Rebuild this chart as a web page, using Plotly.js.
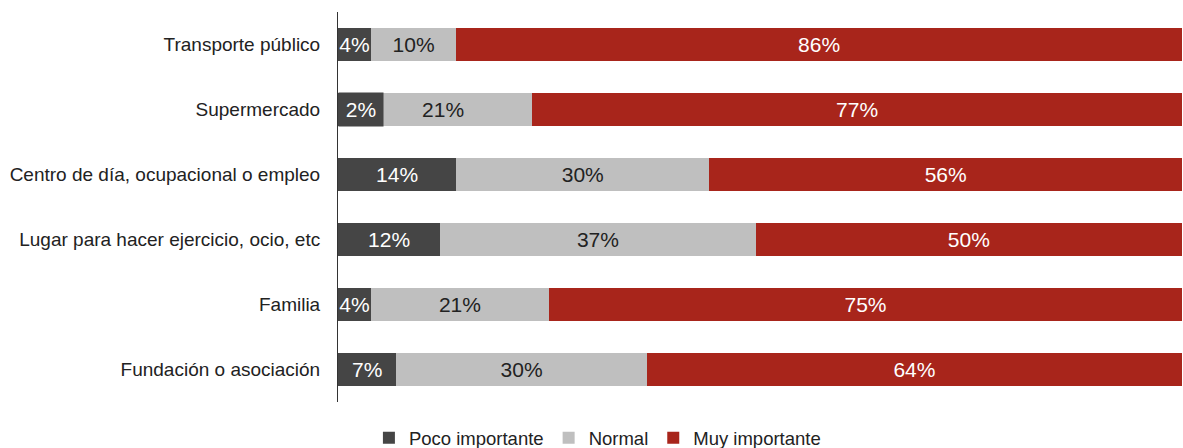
<!DOCTYPE html>
<html>
<head>
<meta charset="utf-8">
<script src="https://cdn.plot.ly/plotly-3.0.1.min.js"></script>
<style>html,body{margin:0;padding:0;background:#fff;}#chart{width:1183px;height:448px;}</style>
</head>
<body>
<div id="chart"></div>
<script>
const categories = ["Transporte público", "Supermercado", "Centro de día, ocupacional o empleo", "Lugar para hacer ejercicio, ocio, etc", "Familia", "Fundación o asociación"];
const seriesNames = ["Poco importante", "Normal", "Muy importante"];
const poco = [3.9, 1.9, 14.0, 12.1, 3.9, 6.9];
const normal = [10.1, 21.1, 30.0, 37.4, 21.1, 29.7];
const muy = [86.0, 77.0, 56.0, 50.5, 75.0, 63.4];
const pocoLabels = ["4%", "2%", "14%", "12%", "4%", "7%"];
const normalLabels = ["10%", "21%", "30%", "37%", "21%", "30%"];
const muyLabels = ["86%", "77%", "56%", "50%", "75%", "64%"];

const colors = ["#454545", "#bfbfbf", "#a8251b"];
const textColors = ["#ffffff", "#222222", "#ffffff"];
const values = [poco, normal, muy];
const labels = [pocoLabels, normalLabels, muyLabels];

const FONT = "Liberation Sans, Arial, sans-serif";
const annotations = [];
const traces = values.map((vals, i) => {
  const txt = labels[i].map((l, j) => {
    if (vals[j] < 3) {
      annotations.push({
        x: 0, y: categories[j], xref: "x", yref: "y", xanchor: "left", yanchor: "middle",
        text: l, showarrow: false, bgcolor: colors[i], width: 40, height: 29, borderpad: 2,
        font: {family: FONT, size: 21, color: textColors[i]}
      });
      return "";
    }
    return l;
  });
  return {
    type: "bar", orientation: "h", name: seriesNames[i],
    y: categories, x: vals, text: txt, textposition: "inside", insidetextanchor: "middle",
    constraintext: "none", textangle: 0,
    insidetextfont: {family: FONT, size: 21, color: textColors[i]},
    marker: {color: colors[i], line: {width: 0}},
    hoverinfo: "skip"
  };
});

const layout = {
  width: 1183, height: 448,
  margin: {l: 338, r: 1, t: 12, b: 46, pad: 0},
  paper_bgcolor: "#ffffff", plot_bgcolor: "#ffffff",
  barmode: "stack", bargap: 0.49,
  font: {family: FONT, size: 18, color: "#222222"},
  xaxis: {range: [0, 100], showgrid: false, zeroline: false, showticklabels: false, ticks: "", showline: false, fixedrange: true},
  yaxis: {autorange: "reversed", type: "category", showgrid: false, zeroline: false,
    showline: true, linecolor: "#333333", linewidth: 1, ticks: "outside", ticklen: 13, tickcolor: "rgba(0,0,0,0)",
    tickfont: {family: FONT, size: 19, color: "#222222"}, fixedrange: true},
  showlegend: true,
  legend: {orientation: "h", xref: "container", yref: "container", x: 0.505, xanchor: "center", y: 0.022, yanchor: "middle",
    font: {family: FONT, size: 18.5, color: "#222222"}, traceorder: "normal", itemwidth: 30, tracegroupgap: 0},
  annotations: annotations
};

Plotly.newPlot("chart", traces, layout, {displayModeBar: false, staticPlot: true});
</script>
</body>
</html>
